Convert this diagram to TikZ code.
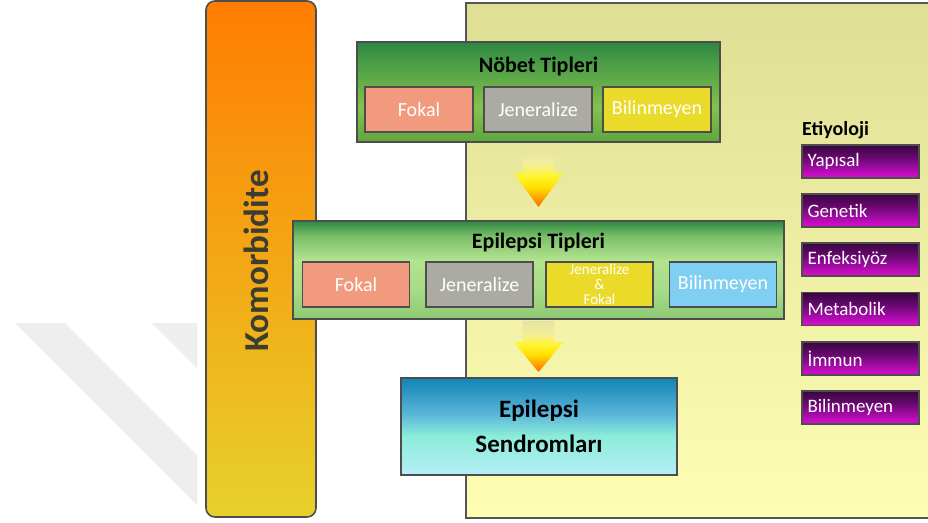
\documentclass[tikz,border=0pt]{standalone}
\usepackage{fontspec}
\setmainfont{Carlito}
\usetikzlibrary{calc}
\definecolor{boxline}{HTML}{4D4D4D}
\definecolor{panelline}{HTML}{555555}
\definecolor{wmgray}{HTML}{EEEEEE}
\definecolor{fokalc}{HTML}{F29A7E}
\definecolor{jenc}{HTML}{ABABA3}
\definecolor{bilc}{HTML}{EADB2A}
\definecolor{bluec}{HTML}{7ECFF2}
\definecolor{komtext}{HTML}{3C3C30}
\definecolor{komT}{HTML}{FF7D00}
\definecolor{komB}{HTML}{E7D12A}
\definecolor{panT}{HTML}{DEDF94}
\definecolor{panB}{HTML}{FEFDB4}
\definecolor{nbT}{HTML}{2C8741}
\definecolor{nbU}{HTML}{4FA047}
\definecolor{nbM}{HTML}{85C24C}
\definecolor{nbB}{HTML}{5EA540}
\definecolor{epT}{HTML}{2E8943}
\definecolor{epU}{HTML}{7CC16A}
\definecolor{epM}{HTML}{B3E38F}
\definecolor{epL}{HTML}{A8DC88}
\definecolor{epB}{HTML}{8CC972}
\definecolor{sdT}{HTML}{1287B8}
\definecolor{sdU}{HTML}{2E95C2}
\definecolor{sdM}{HTML}{5CB8DA}
\definecolor{sdL}{HTML}{8CEDD9}
\definecolor{sdB}{HTML}{B5EEF8}
\definecolor{etT}{HTML}{38063F}
\definecolor{etU}{HTML}{66086C}
\definecolor{etM}{HTML}{A20CA6}
\definecolor{etB}{HTML}{E20CD2}
\definecolor{arT}{HTML}{E6E4A2}
\definecolor{arU}{HTML}{F4EE9A}
\definecolor{arY}{HTML}{FFF530}
\definecolor{arG}{HTML}{FFE000}
\definecolor{arO}{HTML}{FFA000}
\definecolor{arR}{HTML}{FF6A00}
\pgfdeclareverticalshading{nobetsh}{100bp}{color(0bp)=(nbB); color(25bp)=(nbB); color(42bp)=(nbM); color(63bp)=(nbU); color(75bp)=(nbT); color(100bp)=(nbT)}
\pgfdeclareverticalshading{eptsh}{100bp}{color(0bp)=(epB); color(25bp)=(epB); color(40bp)=(epL); color(55bp)=(epM); color(67bp)=(epU); color(75bp)=(epT); color(100bp)=(epT)}
\pgfdeclareverticalshading{sendsh}{100bp}{color(0bp)=(sdB); color(25bp)=(sdB); color(45bp)=(sdL); color(56bp)=(sdM); color(68bp)=(sdU); color(75bp)=(sdT); color(100bp)=(sdT)}
\pgfdeclareverticalshading{etysh}{100bp}{color(0bp)=(etB); color(25bp)=(etB); color(40bp)=(etM); color(57bp)=(etU); color(75bp)=(etT); color(100bp)=(etT)}
\pgfdeclareverticalshading{arrowsh}{100bp}{color(0bp)=(arR); color(25bp)=(arR); color(33bp)=(arO); color(42bp)=(arG); color(52bp)=(arY); color(62bp)=(arU); color(75bp)=(arT); color(100bp)=(arT)}
\begin{document}
\begin{tikzpicture}[x=1pt,y=-1pt,
  box/.style={draw=boxline, line width=1.6pt, inner sep=0pt, outer sep=0pt},
  bigbox/.style={box, line width=1.8pt},
  subbox/.style={box, minimum width=107pt, minimum height=45pt, text=white, font=\fontsize{20}{24}\selectfont},
  titletext/.style={font=\bfseries\fontsize{22}{26}\selectfont, text=black, inner sep=0pt},
  etybox/.style={box, shading=etysh, minimum height=33pt, text width=106pt, inner xsep=5.5pt, align=left, text=white, font=\fontsize{19}{22}\selectfont},
  wm/.style={fill=wmgray},
  flowarrow/.style={shading=arrowsh}
]
\clip (0,0) rectangle (928,522);
\fill[white] (0,0) rectangle (928,522);
% faint watermark
\begin{scope}
\clip (0,0) rectangle (197,522);
\fill[wm] (15,323) -- (65,323) -- (265,523) -- (215,523) -- cycle;
\fill[wm] (152,323) -- (202,323) -- (402,523) -- (352,523) -- cycle;
\end{scope}
% Komorbidite bar
\node[draw=boxline, line width=1.6pt, rounded corners=9pt, top color=komT, bottom color=komB, minimum width=110pt, minimum height=516pt, anchor=north west, inner sep=0pt, outer sep=0pt] (komor) at (206,1) {};
\node[rotate=90, inner sep=0pt, font=\bfseries\fontsize{35}{40}\selectfont, text=komtext] (komortxt) at (256,261) {Komorbidite};
% panel
\node[draw=panelline, line width=2pt, top color=panT, bottom color=panB, minimum width=470pt, minimum height=515pt, anchor=north west, inner sep=0pt, outer sep=0pt] (panel) at (466,3) {};
% Nobet tipleri
\node[bigbox, shading=nobetsh, minimum width=363pt, minimum height=100pt] (nobet) at (538.5,92) {};
\node[titletext] (nobettitle) at (538.5,67) {Nöbet Tipleri};
\node[subbox, fill=fokalc, minimum width=108pt] (nfokal) at (419,109.5) {Fokal};
\node[subbox, fill=jenc, minimum width=108pt] (njen) at (538,109.5) {Jeneralize};
\node[subbox, fill=bilc, minimum width=108pt] (nbil) at (657,109.5) {Bilinmeyen};
% Epilepsi tipleri
\node[bigbox, shading=eptsh, minimum width=491pt, minimum height=98pt] (ept) at (538.5,270) {};
\node[titletext] (epttitle) at (538.5,243) {Epilepsi Tipleri};
\node[subbox, fill=fokalc] (efokal) at (356,284.5) {Fokal};
\node[subbox, fill=jenc] (ejen) at (479.5,284.5) {Jeneralize};
\node[subbox, fill=bilc, align=center, font=\fontsize{15}{15}\selectfont] (ejf) at (599.5,284.5) {Jeneralize\\\&\\Fokal};
\node[subbox, fill=bluec] (ebil) at (723,284.5) {Bilinmeyen};
% Epilepsi sendromlari
\node[bigbox, shading=sendsh, minimum width=276pt, minimum height=97pt, align=center, font=\bfseries\fontsize{25}{35}\selectfont, text=black] (sendrom) at (539,426.5) {Epilepsi\\Sendromları};
% arrows
\shade[flowarrow] let \p1=($(nobet.south)+(0,7)$), \p2=($(ept.north)+(0,-14)$) in
  (\x1-16pt,\y1) -- (\x1-16pt,\y2+34pt) -- (\x1-25pt,\y2+34pt) -- (\x1,\y2) -- (\x1+25pt,\y2+34pt) -- (\x1+16pt,\y2+34pt) -- (\x1+16pt,\y1) -- cycle;
\shade[flowarrow] let \p1=($(ept.south)+(0,2)$), \p2=($(sendrom.north)+(0,-6)$) in
  (\x1-16pt,\y1) -- (\x1-16pt,\y2+30pt) -- (\x1-25pt,\y2+30pt) -- (\x1,\y2) -- (\x1+25pt,\y2+30pt) -- (\x1+16pt,\y2+30pt) -- (\x1+16pt,\y1) -- cycle;
% Etiyoloji
\node[anchor=west, inner sep=0pt, font=\bfseries\fontsize{20}{24}\selectfont, text=black] (etylabel) at (802,130) {Etiyoloji};
\node[etybox] (e1) at (860.5,161.5) {Yapısal};
\node[etybox] (e2) at (860.5,210.5) {Genetik};
\node[etybox] (e3) at (860.5,259.5) {Enfeksiyöz};
\node[etybox] (e4) at (860.5,309) {Metabolik};
\node[etybox] (e5) at (860.5,358.5) {İmmun};
\node[etybox] (e6) at (860.5,407.5) {Bilinmeyen};
\end{tikzpicture}
\end{document}
